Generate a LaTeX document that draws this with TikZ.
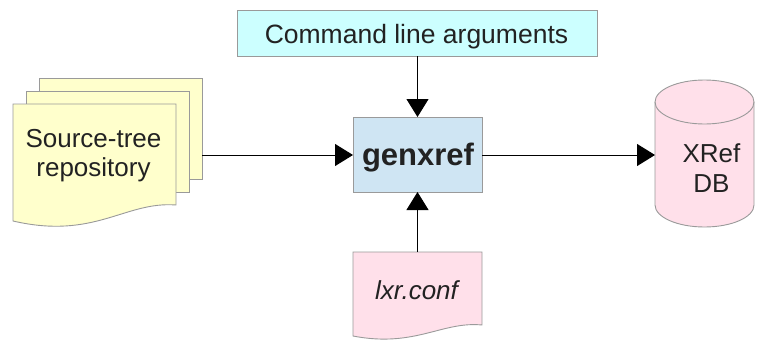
\documentclass[tikz,border=0pt]{standalone}
\usepackage{fontspec}
\setmainfont{Liberation Sans}
\usetikzlibrary{arrows.meta}
\definecolor{edgegray}{HTML}{9A9A9A}
\definecolor{inkdark}{HTML}{222222}
\definecolor{cmdfill}{HTML}{CCFFFF}
\definecolor{genfill}{HTML}{CFE5F3}
\definecolor{srcfill}{HTML}{FFFFCC}
\definecolor{pinkfill}{HTML}{FFE0EA}
\tikzset{
  shapeline/.style={draw=edgegray, line width=0.9pt},
  flow/.style={draw=black, line width=1pt, -{Triangle[length=18pt,width=22pt]}},
  label/.style={text=inkdark, align=center, inner sep=0pt},
}
\begin{document}
\begin{tikzpicture}[x=1pt,y=-1pt]
\useasboundingbox (0,0) rectangle (757,340);

% command line arguments box
\draw[shapeline, fill=cmdfill] (237,10) rectangle (597,56);
\node[label, anchor=base, font=\fontsize{26.5}{30}\selectfont] (cmd) at (416.5,43) {Command line arguments};
\coordinate (cmdout) at (417.5,56);

% genxref box
\draw[shapeline, fill=genfill] (353,117) rectangle (482,192);
\node[label, anchor=base, font=\fontsize{31}{36}\selectfont\bfseries] (gen) at (418,165) {genxref};
\coordinate (genin) at (353,155);
\coordinate (genout) at (482,155);
\coordinate (gentop) at (417.5,117);
\coordinate (genbot) at (417.5,192);

% stacked source-tree documents
\filldraw[shapeline, fill=srcfill] (39,78) rectangle (202,179);
\filldraw[shapeline, fill=srcfill] (26,91) rectangle (189,192);
\filldraw[shapeline, fill=srcfill] (13,104) -- (176,104) -- (176,205)
   .. controls (125,201) and (95,240) .. (13,221) -- cycle;
\node[label, font=\fontsize{26}{29}\selectfont] (src) at (93.5,155.7) {Source-tree\\repository};
\coordinate (srcout) at (202,155);

% lxr.conf document
\filldraw[shapeline, fill=pinkfill] (353,252) -- (482,252) -- (482,325)
   .. controls (442,321) and (415,348) .. (353,336) -- cycle;
\node[label, anchor=base, font=\fontsize{26}{30}\selectfont\itshape] (conf) at (416.5,299) {lxr.conf};
\coordinate (conftop) at (417.5,252);

% XRef database cylinder
\filldraw[shapeline, fill=pinkfill] (655,102) -- (655,205)
   arc[start angle=180, end angle=360, x radius=49.5, y radius=-22]
   -- (754,102) arc[start angle=0, end angle=180, x radius=49.5, y radius=-22] -- cycle;
\draw[shapeline] (655,102) arc[start angle=180, end angle=360, x radius=49.5, y radius=-22];
\node[label, font=\fontsize{26}{30}\selectfont] (db) at (711.5,168.5) {XRef\\DB};
\coordinate (dbin) at (655,155);

% connectors
\draw[flow] (cmdout) -- (gentop);
\draw[flow] (srcout) -- (genin);
\draw[flow] (genout) -- (dbin);
\draw[flow] (conftop) -- (genbot);
\end{tikzpicture}
\end{document}
